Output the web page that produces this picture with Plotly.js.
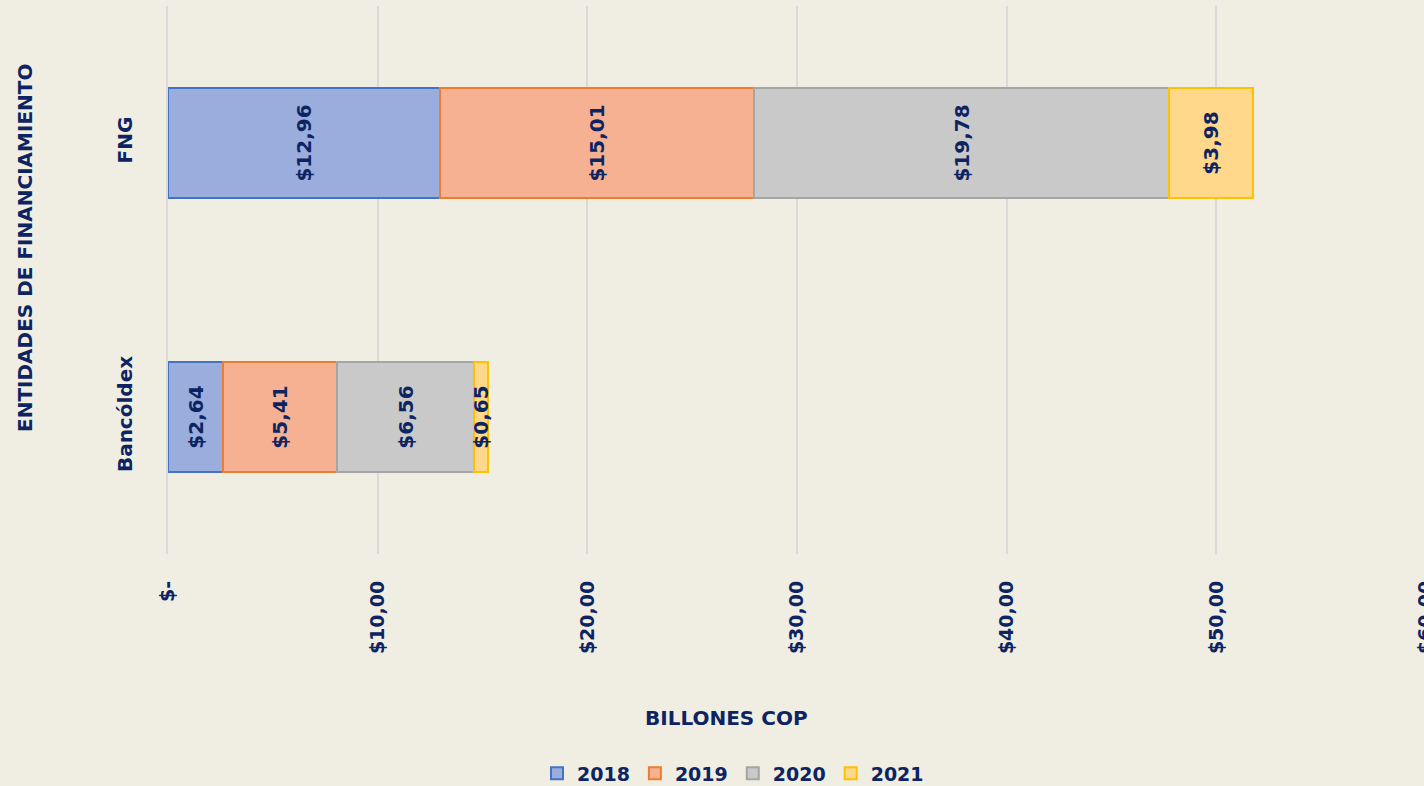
<!DOCTYPE html>
<html><head><meta charset="utf-8">
<script src="https://cdn.plot.ly/plotly-3.0.1.min.js"></script>
<style>html,body{margin:0;padding:0;background:#F0EEE2;overflow:hidden;}</style>
</head><body>
<div id="chart" style="width:1426px;height:786px;"></div>
<script>
const categories = ["Bancóldex", "FNG"];
const years = ["2018", "2019", "2020", "2021"];
const v2018 = [2.64, 12.96];
const v2019 = [5.41, 15.01];
const v2020 = [6.56, 19.78];
const v2021 = [0.65, 3.98];
const tickVals = [0, 10, 20, 30, 40, 50, 60];
const tickLabels = ["$-", "$10,00", "$20,00", "$30,00", "$40,00", "$50,00", "$60,00"];

const fills = ["#9AADDD", "#F6B193", "#C9C9C9", "#FFD88C"];
const lines = ["#4472C4", "#ED7D31", "#A5A5A5", "#FFC000"];
const series = [v2018, v2019, v2020, v2021];
const navy = "#0D2463";
const FONT = "DejaVu Sans";

function fmt(v){ return "$" + v.toFixed(2).replace(".", ","); }

const traces = series.map((vals, i) => ({
  type: "bar",
  orientation: "h",
  name: years[i],
  y: categories,
  x: vals,
  width: 0.405,
  marker: {color: fills[i], line: {color: lines[i], width: 2}},
  text: vals.map(fmt),
  textposition: "inside",
  insidetextanchor: "middle",
  textangle: -90,
  constraintext: "none",
  cliponaxis: false,
  textfont: {family: FONT, size: 20, color: navy, weight: "bold"},
  hoverinfo: "x+name"
}));

const W = 1426, L = 168, T = 6, PW = W - L, PH = 548;

const layout = {
  width: W, height: 786,
  paper_bgcolor: "#F0EEE2",
  plot_bgcolor: "#F0EEE2",
  barmode: "stack",
  margin: {l: L, r: 0, t: T, b: 786 - T - PH},
  font: {family: FONT, color: navy, weight: "bold"},
  xaxis: {
    range: [0, 60],
    tickvals: tickVals,
    ticktext: tickLabels,
    tickangle: -90,
    tickfont: {family: FONT, size: 19, color: navy, weight: "bold"},
    ticklabeloverflow: "allow",
    showgrid: true,
    gridcolor: "#D9D9D9",
    gridwidth: 2,
    zeroline: false,
    showline: false,
    ticks: "",
    ticklabelstandoff: 22,
    fixedrange: true
  },
  yaxis: {
    range: [-0.5, 1.5],
    tickangle: -90,
    tickfont: {family: FONT, size: 20, color: navy, weight: "bold"},
    showgrid: false,
    zeroline: false,
    showline: true,
    linecolor: "#D9D9D9",
    linewidth: 2,
    ticks: "",
    ticklabelstandoff: 26,
    fixedrange: true
  },
  showlegend: true,
  legend: {
    orientation: "h",
    xref: "container", yref: "container",
    x: 733 / W, y: 0.016, xanchor: "center", yanchor: "middle",
    font: {family: FONT, size: 19, color: navy, weight: "bold"},
    traceorder: "normal",
    itemwidth: 30,
    bgcolor: "rgba(0,0,0,0)"
  },
  annotations: [
    {text: "BILLONES COP", xref: "paper", yref: "paper", x: (726 - L) / PW, y: (T + PH - 718) / PH,
     xanchor: "center", yanchor: "middle", showarrow: false,
     font: {family: FONT, size: 20, color: navy, weight: "bold"}},
    {text: "ENTIDADES DE FINANCIAMIENTO", xref: "paper", yref: "paper", x: (25 - L) / PW, y: (T + PH - 248) / PH,
     xanchor: "center", yanchor: "middle", showarrow: false, textangle: -90,
     font: {family: FONT, size: 20, color: navy, weight: "bold"}}
  ]
};

Plotly.newPlot("chart", traces, layout, {displayModeBar: false, staticPlot: true});
</script>
</body></html>
